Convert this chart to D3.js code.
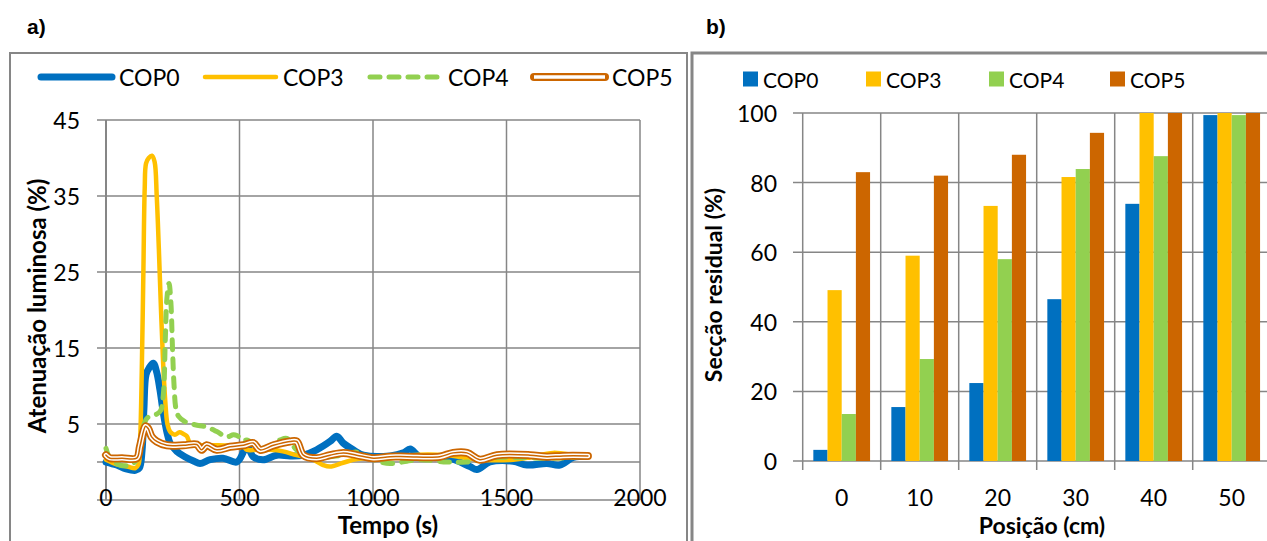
<!DOCTYPE html>
<html>
<head>
<meta charset="utf-8">
<script src="https://cdn.jsdelivr.net/npm/d3@7/dist/d3.min.js"></script>
<style>
  html, body { margin: 0; padding: 0; background: #fff; }
  svg { display: block; }
  text { font-family: Lato, "Open Sans", sans-serif; fill: #000; }
</style>
</head>
<body>
<svg id="chart" width="1267" height="541"></svg>
<script>
// ---------- a) light attenuation over time ----------
const seriesNames = ["COP0", "COP3", "COP4", "COP5"];
const seriesColors = ["#0070C0", "#FFC000", "#92D050", "#CC6600"];

// [time (s), attenuation (%)]
const cop0 = [[0,0],[40,-0.4],[75,-0.9],[110,-1.1],[125,-0.8],[135,1.5],[142,7],[150,11.5],[162,12.4],[177,13],[190,11.8],[202,9.5],[215,6.4],[229,3.8],[240,2.5],[265,1.4],[295,0.7],[330,0.1],[352,-0.2],[390,0.3],[438,0.5],[490,0],[513,1.2],[527,2.5],[540,1.4],[551,0.7],[589,0.3],[640,0.9],[689,0.8],[739,0.9],[789,1.6],[839,2.7],[864,3.4],[888,2.5],[926,1.6],[964,0.9],[1064,0.8],[1114,1.2],[1139,1.7],[1176,0.7],[1277,0.6],[1363,-0.6],[1389,-1.0],[1438,0],[1525,0.1],[1577,-0.4],[1651,-0.2],[1700,-0.4],[1750,0.6],[1801,0.8]];
const cop3 = [[0,0.3],[40,-0.3],[80,-0.6],[110,-0.8],[122,-0.3],[128,3],[134,12],[140,25],[145,36],[150,39.3],[160,40],[172,40.3],[182,39.5],[190,35],[198,28],[206,20],[214,13],[222,8],[230,5],[240,4.0],[258,3.6],[275,3.9],[290,3.7],[303,3.4],[315,2.5],[360,2.2],[420,2.2],[480,2.1],[515,2.0],[528,1.6],[565,1.6],[614,1.6],[663,1.4],[714,0.9],[764,0.5],[813,-0.4],[839,-0.6],[888,-0.1],[940,0.4],[1000,0.5],[1064,0.5],[1139,0.9],[1277,0.9],[1400,0.3],[1525,0.3],[1588,0.6],[1675,1.2],[1775,0.8],[1805,0.9]];
const cop4 = [[0,1.8],[15,0.5],[52,-0.4],[90,-0.4],[115,0.3],[127,2.5],[146,5.3],[158,5.9],[190,6.3],[205,6.8],[215,9],[222,16],[228,21.5],[236,23.5],[243,21],[249,15],[255,10],[262,7],[272,6],[296,5.3],[333,4.9],[377,4.6],[415,4.0],[452,3.3],[477,3.6],[490,3.5],[515,2.8],[527,2.9],[590,1.8],[652,2.9],[677,3.1],[714,1.6],[764,0.5],[814,0.6],[889,0.9],[939,1.3],[1002,0.3],[1064,-0.2],[1127,0.1],[1176,0.3],[1277,0],[1352,0],[1464,0.6],[1525,0.6],[1650,0.5],[1750,0.6],[1805,0.9]];
const cop5 = [[0,0.9],[15,0.5],[60,0.5],[115,0.5],[127,2],[140,4],[148,4.7],[158,4.4],[171,3.3],[190,2.7],[228,2.2],[290,2.2],[340,2.3],[358,1.6],[377,2.2],[415,1.6],[465,2],[515,2.2],[552,2.5],[577,1.6],[627,2.2],[689,2.7],[714,2.7],[739,0.9],[789,0.5],[839,0.9],[889,1.2],[939,0.9],[1002,0.5],[1064,0.7],[1127,0.7],[1250,0.7],[1300,1.2],[1352,1.2],[1400,0.3],[1464,0.9],[1588,0.9],[1651,0.7],[1712,0.8],[1805,0.8]];
const timeSeries = [cop0, cop3, cop4, cop5];

const timeTicks = [0, 500, 1000, 1500, 2000];
const attenTicks = [5, 15, 25, 35, 45];

// ---------- b) residual section by position ----------
const positions = ["0", "10", "20", "30", "40", "50"];
const residual = {
  COP0: [3.2, 15.5, 22.4, 46.5, 73.9, 99.4],
  COP3: [49.1, 59, 73.3, 81.6, 100, 100],
  COP4: [13.5, 29.3, 58, 83.9, 87.6, 99.4],
  COP5: [83, 82, 88, 94.3, 100, 100]
};
const residualTicks = [0, 20, 40, 60, 80, 100];

const svg = d3.select("#chart");
const gridColor = "#868686";

// panel frames
svg.append("rect").attr("x", 10).attr("y", 53).attr("width", 677).attr("height", 520)
  .attr("fill", "none").attr("stroke", gridColor).attr("stroke-width", 2);
svg.append("rect").attr("x", 692).attr("y", 53).attr("width", 620).attr("height", 520)
  .attr("fill", "none").attr("stroke", gridColor).attr("stroke-width", 3);

svg.append("text").attr("x", 27).attr("y", 34).text("a)")
  .style("font-family", "'Liberation Sans', Arial, sans-serif").style("font-weight", "bold").style("font-size", "21px");
svg.append("text").attr("x", 706).attr("y", 34).text("b)")
  .style("font-family", "'Liberation Sans', Arial, sans-serif").style("font-weight", "bold").style("font-size", "21px");

// ===== panel a =====
const xA = d3.scaleLinear().domain([0, 2000]).range([106, 640]);
const yA = d3.scaleLinear().domain([-5, 45]).range([500, 120]);
const gA = svg.append("g");

// horizontal grid (with outward tick stubs), including the zero axis line and bottom edge
const hLinesA = [-5, 0].concat(attenTicks);
gA.selectAll("line.hgrid").data(hLinesA).join("line")
  .attr("x1", xA(0) - 9).attr("x2", xA(2000))
  .attr("y1", d => yA(d)).attr("y2", d => yA(d))
  .attr("stroke", gridColor).attr("stroke-width", 1.5);
gA.selectAll("line.vgrid").data(timeTicks).join("line")
  .attr("x1", d => xA(d)).attr("x2", d => xA(d))
  .attr("y1", yA(45)).attr("y2", yA(-5))
  .attr("stroke", gridColor).attr("stroke-width", d => d === 0 ? 2 : 1.5);

gA.selectAll("text.ytick").data(attenTicks).join("text")
  .attr("x", 80).attr("y", d => yA(d)).attr("text-anchor", "end")
  .attr("dominant-baseline", "central").style("font-size", "23px").text(d => d);
gA.selectAll("text.xtick").data(timeTicks).join("text")
  .attr("x", d => xA(d)).attr("y", 497).attr("text-anchor", "middle")
  .attr("dominant-baseline", "central").style("font-size", "23px").text(d => d);

gA.append("text").attr("x", 388).attr("y", 524).attr("text-anchor", "middle")
  .attr("dominant-baseline", "central").style("font-size", "24px").style("font-weight", "bold")
  .text("Tempo (s)");
gA.append("text").attr("transform", "translate(36,306) rotate(-90)").attr("text-anchor", "middle")
  .attr("dominant-baseline", "central").style("font-size", "24px").style("font-weight", "bold")
  .text("Atenuação luminosa (%)");

const lineA = d3.line().x(d => xA(d[0])).y(d => yA(d[1])).curve(d3.curveCatmullRom.alpha(0.5));
const lineStyles = [
  [{ w: 7, c: seriesColors[0] }],
  [{ w: 4.5, c: seriesColors[1] }],
  [{ w: 5, c: seriesColors[2], dash: "10,9" }],
  [{ w: 8, c: seriesColors[3] }, { w: 4.5, c: "#fff" }, { w: 1.5, c: seriesColors[3] }]
];
timeSeries.forEach((s, i) => {
  lineStyles[i].forEach(st => {
    gA.append("path").datum(s).attr("d", lineA).attr("fill", "none")
      .attr("stroke", st.c).attr("stroke-width", st.w)
      .attr("stroke-linecap", "round").attr("stroke-linejoin", "round")
      .attr("stroke-dasharray", st.dash || null);
  });
});

// legend a
const legAx = [41, 205, 370, 534];
const legendA = gA.selectAll("g.leg").data(seriesNames).join("g")
  .attr("transform", (d, i) => `translate(${legAx[i]},77)`);
legendA.each(function (d, i) {
  const g = d3.select(this);
  const styles = i === 3 ? [{ w: 8, c: seriesColors[3] }, { w: 3.5, c: "#fff" }] : lineStyles[i];
  styles.forEach(st => {
    g.append("line").attr("x1", 0).attr("x2", 71).attr("y1", 0).attr("y2", 0)
      .attr("stroke", st.c).attr("stroke-width", st.w).attr("stroke-linecap", i === 3 && st.c === "#fff" ? "butt" : "round")
      .attr("stroke-dasharray", st.dash || null);
  });
  g.append("text").attr("x", 78).attr("y", 0).attr("dominant-baseline", "central")
    .style("font-size", "23px").text(d);
});

// ===== panel b =====
const xB = d3.scaleBand().domain(positions).range([802.7, 1270.7]).paddingInner(0).paddingOuter(0);
const xSub = d3.scaleBand().domain(seriesNames).range([0, xB.bandwidth()]).paddingInner(0).paddingOuter(0.75);
const yB = d3.scaleLinear().domain([0, 100]).range([461, 113]);
const gB = svg.append("g");

gB.selectAll("line.hgrid").data(residualTicks).join("line")
  .attr("x1", 793).attr("x2", 1267)
  .attr("y1", d => yB(d)).attr("y2", d => yB(d))
  .attr("stroke", gridColor).attr("stroke-width", 1.5);
const bounds = positions.map(p => xB(p));
gB.selectAll("line.vgrid").data(bounds).join("line")
  .attr("x1", d => d).attr("x2", d => d)
  .attr("y1", yB(100)).attr("y2", yB(0) + 9)
  .attr("stroke", gridColor).attr("stroke-width", 1.5);

seriesNames.forEach((name, si) => {
  gB.selectAll(`rect.s${si}`).data(residual[name]).join("rect")
    .attr("x", (d, i) => xB(positions[i]) + xSub(name))
    .attr("width", xSub.bandwidth())
    .attr("y", d => yB(d)).attr("height", d => yB(0) - yB(d))
    .attr("fill", seriesColors[si]);
});

gB.selectAll("text.ytick").data(residualTicks).join("text")
  .attr("x", 777).attr("y", d => yB(d)).attr("text-anchor", "end")
  .attr("dominant-baseline", "central").style("font-size", "23px").text(d => d);
gB.selectAll("text.xtick").data(positions).join("text")
  .attr("x", d => xB(d) + xB.bandwidth() / 2).attr("y", 497).attr("text-anchor", "middle")
  .attr("dominant-baseline", "central").style("font-size", "23px").text(d => d);

gB.append("text").attr("x", 1042).attr("y", 525).attr("text-anchor", "middle")
  .attr("dominant-baseline", "central").style("font-size", "23px").style("font-weight", "bold")
  .text("Posição (cm)");
gB.append("text").attr("transform", "translate(713,285) rotate(-90)").attr("text-anchor", "middle")
  .attr("dominant-baseline", "central").style("font-size", "23px").style("font-weight", "bold")
  .text("Secção residual (%)");

// legend b
const legBx = [743, 866, 989, 1110];
const legendB = gB.selectAll("g.leg").data(seriesNames).join("g")
  .attr("transform", (d, i) => `translate(${legBx[i]},79)`);
legendB.append("rect").attr("x", 0).attr("y", -7.5).attr("width", 15).attr("height", 15)
  .attr("fill", (d, i) => seriesColors[i]);
legendB.append("text").attr("x", 20).attr("y", 0).attr("dominant-baseline", "central")
  .style("font-size", "21px").text(d => d);
</script>
</body>
</html>
